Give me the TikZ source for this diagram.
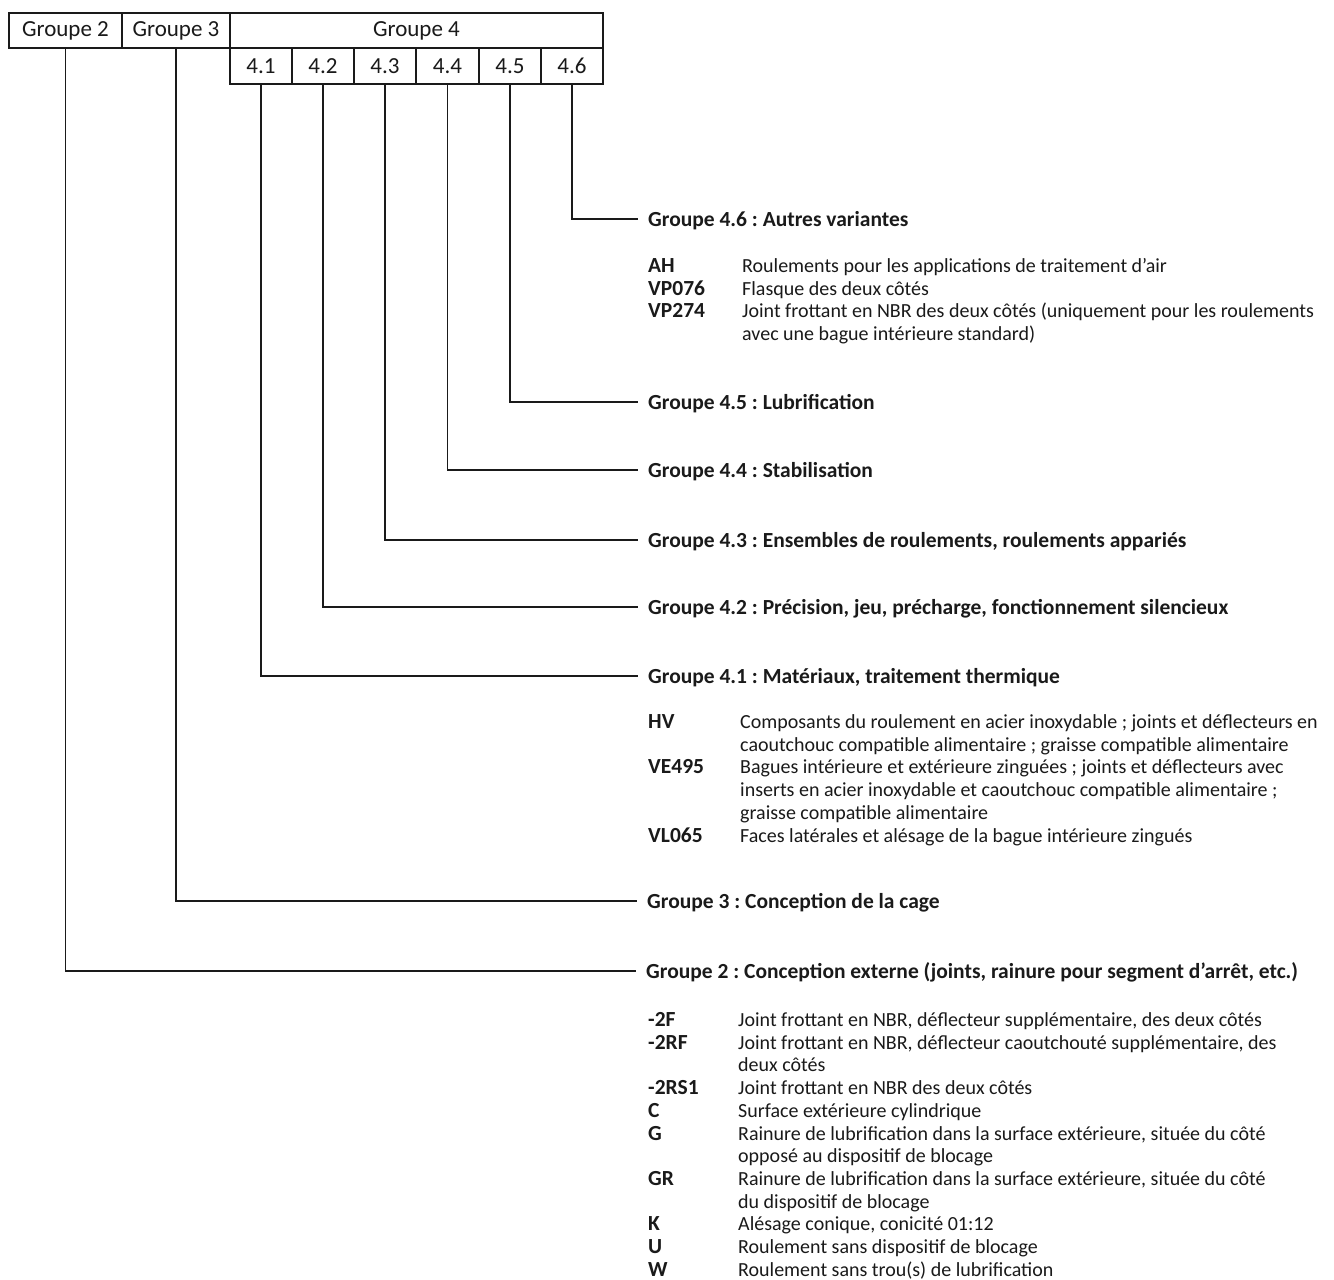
\documentclass[tikz,border=0pt]{standalone}
\usepackage{fontspec}
\setmainfont{Carlito}
\usepackage{array}
\definecolor{ink}{HTML}{1A1A1A}
\newcommand\fsz{\fontsize{20}{22.7}\selectfont\frenchspacing}
\newcommand\fhd{\fontsize{21.5}{22.7}\selectfont\bfseries\frenchspacing}
\newcommand\fbx{\fontsize{23}{26}\selectfont}
\newcommand\cd[1]{{\fontsize{21.5}{22.7}\selectfont\bfseries #1}}
\begin{document}
\begin{tikzpicture}[x=1pt,y=-1pt,
  box/.style={draw=ink, line width=1.7pt, inner sep=0pt, font=\fbx, text=ink},
  wire/.style={draw=ink, line width=1.7pt},
  head/.style={anchor=west, inner sep=0pt, text height=14pt, text depth=0pt, font=\fhd, text=ink},
  lst/.style={anchor=base west, inner sep=0pt, font=\fsz, text=ink}]
\useasboundingbox (0,0) rectangle (1334,1280);
\fill[white] (0,0) rectangle (1334,1280);
% top boxes
\node[box, minimum width=113pt, minimum height=35pt] (g2) at (65.5,30.5) {Groupe 2};
\node[box, minimum width=108pt, minimum height=35pt] (g3) at (176,30.5) {Groupe 3};
\node[box, minimum width=373pt, minimum height=35pt] (g4) at (416.5,30.5) {Groupe 4};
\node[box, minimum width=62pt, minimum height=36pt] (s41) at (261,66) {4.1};
\node[box, minimum width=62pt, minimum height=36pt] (s42) at (323,66) {4.2};
\node[box, minimum width=62pt, minimum height=36pt] (s43) at (385,66) {4.3};
\node[box, minimum width=63pt, minimum height=36pt] (s44) at (447.5,66) {4.4};
\node[box, minimum width=62pt, minimum height=36pt] (s45) at (510,66) {4.5};
\node[box, minimum width=62pt, minimum height=36pt] (s46) at (572,66) {4.6};
% headings
\node[head] (h46) at (648,219) {Groupe 4.6 : Autres variantes};
\node[head] (h45) at (648,402) {Groupe 4.5 : Lubrification};
\node[head] (h44) at (648,470) {Groupe 4.4 : Stabilisation};
\node[head] (h43) at (648,540) {Groupe 4.3 : Ensembles de roulements, roulements appariés};
\node[head] (h42) at (648,607) {Groupe 4.2 : Précision, jeu, précharge, fonctionnement silencieux};
\node[head] (h41) at (648,676) {Groupe 4.1 : Matériaux, traitement thermique};
\node[head] (h3) at (647,901) {Groupe 3 : Conception de la cage};
\node[head] (h2) at (646,971) {Groupe 2 : Conception externe (joints, rainure pour segment d’arrêt, etc.)};
% connectors
\draw[wire] (s46.south) |- ([xshift=-10pt]h46.west);
\draw[wire] (s45.south) |- ([xshift=-10pt]h45.west);
\draw[wire] (s44.south) |- ([xshift=-10pt]h44.west);
\draw[wire] (s43.south) |- ([xshift=-10pt]h43.west);
\draw[wire] (s42.south) |- ([xshift=-10pt]h42.west);
\draw[wire] (s41.south) |- ([xshift=-10pt]h41.west);
\draw[wire] (g3.south) |- ([xshift=-10pt]h3.west);
\draw[wire] (g2.south) |- ([xshift=-10pt]h2.west);
% lists
\node[lst] (l46) at (648,272.5) {\begin{tabular}[t]{@{}p{94pt}@{}l@{}}
\cd{AH} & Roulements pour les applications de traitement d’air\\
\cd{VP076} & Flasque des deux côtés\\
\cd{VP274} & Joint frottant en NBR des deux côtés (uniquement pour les roulements\\
 & avec une bague intérieure standard)
\end{tabular}};
\node[lst] (l41) at (648,728.5) {\begin{tabular}[t]{@{}p{92pt}@{}l@{}}
\cd{HV} & Composants du roulement en acier inoxydable ; joints et déflecteurs en\\
 & caoutchouc compatible alimentaire ; graisse compatible alimentaire\\
\cd{VE495} & Bagues intérieure et extérieure zinguées ; joints et déflecteurs avec\\
 & inserts en acier inoxydable et caoutchouc compatible alimentaire ;\\
 & graisse compatible alimentaire\\
\cd{VL065} & Faces latérales et alésage de la bague intérieure zingués
\end{tabular}};
\node[lst] (l2) at (648,1026.5) {\begin{tabular}[t]{@{}p{90pt}@{}l@{}}
\cd{-2F} & Joint frottant en NBR, déflecteur supplémentaire, des deux côtés\\
\cd{-2RF} & Joint frottant en NBR, déflecteur caoutchouté supplémentaire, des\\
 & deux côtés\\
\cd{-2RS1} & Joint frottant en NBR des deux côtés\\
\cd{C} & Surface extérieure cylindrique\\
\cd{G} & Rainure de lubrification dans la surface extérieure, située du côté\\
 & opposé au dispositif de blocage\\
\cd{GR} & Rainure de lubrification dans la surface extérieure, située du côté\\
 & du dispositif de blocage\\
\cd{K} & Alésage conique, conicité 01:12\\
\cd{U} & Roulement sans dispositif de blocage\\
\cd{W} & Roulement sans trou(s) de lubrification
\end{tabular}};
\end{tikzpicture}
\end{document}
